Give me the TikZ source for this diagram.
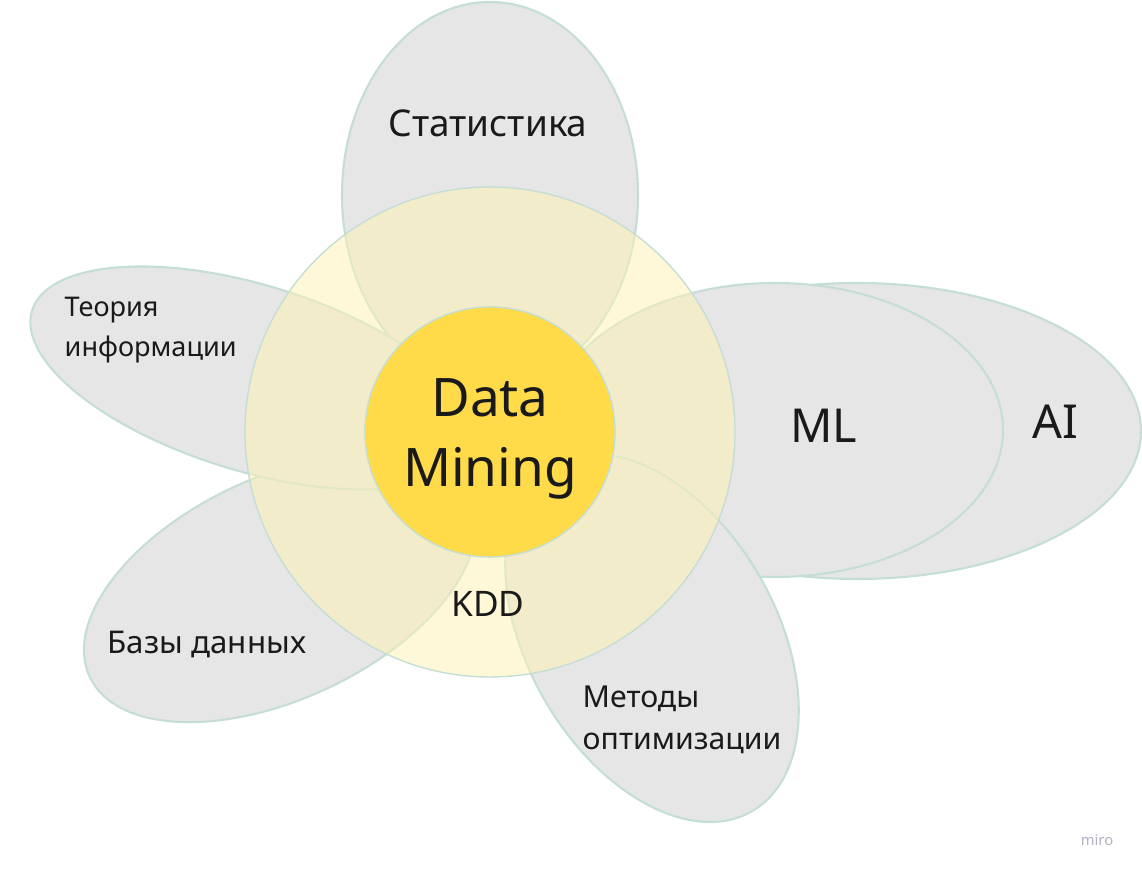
\documentclass[tikz,border=0pt]{standalone}
\usepackage{fontspec}
\setmainfont{Noto Sans}
\definecolor{petalgray}{RGB}{230,230,230}
\definecolor{rimline}{RGB}{197,222,213}
\definecolor{sunyellow}{RGB}{255,242,178}
\definecolor{coreyellow}{RGB}{255,219,74}
\definecolor{ink}{RGB}{26,26,26}
\definecolor{mirogray}{RGB}{175,175,195}
\tikzset{
  petal/.style={fill=petalgray, draw=rimline, line width=0.6pt},
  lbl/.style={text=ink, inner sep=0pt},
}
\begin{document}
\begin{tikzpicture}[x=0.01cm,y=-0.01cm]
\useasboundingbox (0,0) rectangle (1142,874);

\draw[petal] (857,431) ellipse [x radius=284, y radius=148];
\draw[petal] (775,430) ellipse [x radius=228, y radius=147];
\draw[petal] (490,195) ellipse [x radius=148, y radius=193];
\draw[petal, rotate around={25:(280,588)}] (280,588) ellipse [x radius=210, y radius=111];
\draw[petal, rotate around={-17:(252,378)}] (252,378) ellipse [x radius=230, y radius=93];
\draw[petal, rotate around={-60:(652,638)}] (652,638) ellipse [x radius=200, y radius=124];

\draw[fill=sunyellow, fill opacity=0.5, draw=rimline, line width=0.4pt] (490,432) circle [radius=245];
\node[circle, fill=coreyellow, draw=rimline, line width=0.4pt, minimum size=2.5cm, inner sep=0pt] (core) at (490,432) {};

\node[lbl, align=center, font=\fontsize{15.1}{19.9}\selectfont] (dm) at (490,439) {Data\\Mining};
\node[lbl, anchor=base, font=\fontsize{10.5}{12}\selectfont] (stat) at (488,137) {Статистика};
\node[lbl, anchor=base, font=\fontsize{13.3}{15}\selectfont] (ml) at (824,443) {ML};
\node[lbl, anchor=base, font=\fontsize{13.3}{15}\selectfont] (ai) at (1055,439) {AI};
\node[lbl, anchor=base, font=\fontsize{10}{12}\selectfont] (kdd) at (488,617) {KDD};
\node[lbl, anchor=base west, align=left, font=\fontsize{7.7}{11.4}\selectfont] (info) at (64,357) {Теория\\информации};
\node[lbl, anchor=base west, font=\fontsize{8.9}{11}\selectfont] (db) at (107,654) {Базы данных};
\node[lbl, anchor=base west, align=left, font=\fontsize{8.6}{12.2}\selectfont] (opt) at (582,750) {Методы\\оптимизации};
\node[text=mirogray, anchor=base, inner sep=0pt, font=\fontsize{4.2}{5}\selectfont] (miro) at (1097,846) {miro};
\end{tikzpicture}
\end{document}
